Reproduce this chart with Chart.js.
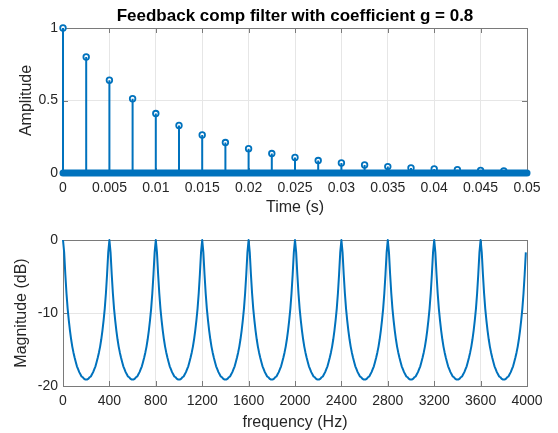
<!DOCTYPE html>
<html>
<head>
<meta charset="utf-8">
<script src="https://cdn.jsdelivr.net/npm/chart.js@4.4.1/dist/chart.umd.min.js"></script>
<style>
  html, body { margin: 0; padding: 0; background: #fff; }
  #wrap { position: relative; width: 558px; height: 433px; }
  #impulse { position: absolute; left: 0; top: 0; }
  #response { position: absolute; left: 0; top: 220px; }
</style>
</head>
<body>
<div id="wrap">
  <canvas id="impulse" width="558" height="220"></canvas>
  <canvas id="response" width="558" height="213"></canvas>
</div>
<script>
// impulse response: one non-zero sample every 0.0025 s, zeros in between
const stemTimes = [0, 0.0025, 0.005, 0.0075, 0.01, 0.0125, 0.015, 0.0175, 0.02, 0.0225,
  0.025, 0.0275, 0.03, 0.0325, 0.035, 0.0375, 0.04, 0.0425, 0.045, 0.0475];
const stemValues = [1, 0.8, 0.64, 0.512, 0.41, 0.328, 0.262, 0.21, 0.168, 0.134,
  0.107, 0.086, 0.069, 0.055, 0.044, 0.035, 0.028, 0.023, 0.018, 0.014];
const zeroSampleSpan = [0, 0.05];   // the zero-valued samples form a solid band
const timeTicks = [0, 0.005, 0.01, 0.015, 0.02, 0.025, 0.03, 0.035, 0.04, 0.045, 0.05];
const amplitudeTicks = [0, 0.5, 1];

// magnitude response, read every 10 Hz from 0 to 3990 Hz
const freqStepHz = 10;
const magnitudeDb = [
  0, -1.7, -4.7, -7.3, -9.4, -11.0, -12.4, -13.6, -14.6, -15.4, -16.1, -16.7, -17.3, -17.7, -18.1, -18.4, -18.7, -18.8, -19.0, -19.1,
  -19.1, -19.1, -19.0, -18.8, -18.7, -18.4, -18.1, -17.7, -17.3, -16.7, -16.1, -15.4, -14.6, -13.6, -12.4, -11.0, -9.4, -7.3, -4.7, -1.7,
  0, -1.7, -4.7, -7.3, -9.4, -11.0, -12.4, -13.6, -14.6, -15.4, -16.1, -16.7, -17.3, -17.7, -18.1, -18.4, -18.7, -18.8, -19.0, -19.1,
  -19.1, -19.1, -19.0, -18.8, -18.7, -18.4, -18.1, -17.7, -17.3, -16.7, -16.1, -15.4, -14.6, -13.6, -12.4, -11.0, -9.4, -7.3, -4.7, -1.7,
  0, -1.7, -4.7, -7.3, -9.4, -11.0, -12.4, -13.6, -14.6, -15.4, -16.1, -16.7, -17.3, -17.7, -18.1, -18.4, -18.7, -18.8, -19.0, -19.1,
  -19.1, -19.1, -19.0, -18.8, -18.7, -18.4, -18.1, -17.7, -17.3, -16.7, -16.1, -15.4, -14.6, -13.6, -12.4, -11.0, -9.4, -7.3, -4.7, -1.7,
  0, -1.7, -4.7, -7.3, -9.4, -11.0, -12.4, -13.6, -14.6, -15.4, -16.1, -16.7, -17.3, -17.7, -18.1, -18.4, -18.7, -18.8, -19.0, -19.1,
  -19.1, -19.1, -19.0, -18.8, -18.7, -18.4, -18.1, -17.7, -17.3, -16.7, -16.1, -15.4, -14.6, -13.6, -12.4, -11.0, -9.4, -7.3, -4.7, -1.7,
  0, -1.7, -4.7, -7.3, -9.4, -11.0, -12.4, -13.6, -14.6, -15.4, -16.1, -16.7, -17.3, -17.7, -18.1, -18.4, -18.7, -18.8, -19.0, -19.1,
  -19.1, -19.1, -19.0, -18.8, -18.7, -18.4, -18.1, -17.7, -17.3, -16.7, -16.1, -15.4, -14.6, -13.6, -12.4, -11.0, -9.4, -7.3, -4.7, -1.7,
  0, -1.7, -4.7, -7.3, -9.4, -11.0, -12.4, -13.6, -14.6, -15.4, -16.1, -16.7, -17.3, -17.7, -18.1, -18.4, -18.7, -18.8, -19.0, -19.1,
  -19.1, -19.1, -19.0, -18.8, -18.7, -18.4, -18.1, -17.7, -17.3, -16.7, -16.1, -15.4, -14.6, -13.6, -12.4, -11.0, -9.4, -7.3, -4.7, -1.7,
  0, -1.7, -4.7, -7.3, -9.4, -11.0, -12.4, -13.6, -14.6, -15.4, -16.1, -16.7, -17.3, -17.7, -18.1, -18.4, -18.7, -18.8, -19.0, -19.1,
  -19.1, -19.1, -19.0, -18.8, -18.7, -18.4, -18.1, -17.7, -17.3, -16.7, -16.1, -15.4, -14.6, -13.6, -12.4, -11.0, -9.4, -7.3, -4.7, -1.7,
  0, -1.7, -4.7, -7.3, -9.4, -11.0, -12.4, -13.6, -14.6, -15.4, -16.1, -16.7, -17.3, -17.7, -18.1, -18.4, -18.7, -18.8, -19.0, -19.1,
  -19.1, -19.1, -19.0, -18.8, -18.7, -18.4, -18.1, -17.7, -17.3, -16.7, -16.1, -15.4, -14.6, -13.6, -12.4, -11.0, -9.4, -7.3, -4.7, -1.7,
  0, -1.7, -4.7, -7.3, -9.4, -11.0, -12.4, -13.6, -14.6, -15.4, -16.1, -16.7, -17.3, -17.7, -18.1, -18.4, -18.7, -18.8, -19.0, -19.1,
  -19.1, -19.1, -19.0, -18.8, -18.7, -18.4, -18.1, -17.7, -17.3, -16.7, -16.1, -15.4, -14.6, -13.6, -12.4, -11.0, -9.4, -7.3, -4.7, -1.7,
  0, -1.7, -4.7, -7.3, -9.4, -11.0, -12.4, -13.6, -14.6, -15.4, -16.1, -16.7, -17.3, -17.7, -18.1, -18.4, -18.7, -18.8, -19.0, -19.1,
  -19.1, -19.1, -19.0, -18.8, -18.7, -18.4, -18.1, -17.7, -17.3, -16.7, -16.1, -15.4, -14.6, -13.6, -12.4, -11.0, -9.4, -7.3, -4.7, -1.7
];
const freqTicks = [0, 400, 800, 1200, 1600, 2000, 2400, 2800, 3200, 3600, 4000];
const magnitudeTicks = [-20, -10, 0];

const BLUE = '#0072BD';
const TEXT = '#262626';
const FONT = "'Liberation Sans', Arial, Helvetica, sans-serif";

Chart.defaults.font.family = FONT;
Chart.defaults.color = TEXT;

// MATLAB-like box with inward tick marks, drawn under the data
const boxPlugin = {
  id: 'matlabBox',
  beforeDatasetsDraw(chart) {
    const { ctx, chartArea: a, scales } = chart;
    ctx.save();
    ctx.strokeStyle = '#7a7a7a';
    ctx.lineWidth = 1;
    ctx.strokeRect(Math.round(a.left) + 0.5, Math.round(a.top) + 0.5,
      Math.round(a.right - a.left), Math.round(a.bottom - a.top));
    ctx.beginPath();
    scales.x.ticks.forEach(t => {
      const px = Math.round(scales.x.getPixelForValue(t.value)) + 0.5;
      ctx.moveTo(px, a.bottom); ctx.lineTo(px, a.bottom - 5);
      ctx.moveTo(px, a.top); ctx.lineTo(px, a.top + 5);
    });
    scales.y.ticks.forEach(t => {
      const py = Math.round(scales.y.getPixelForValue(t.value)) + 0.5;
      ctx.moveTo(a.left, py); ctx.lineTo(a.left + 5, py);
      ctx.moveTo(a.right, py); ctx.lineTo(a.right - 5, py);
    });
    ctx.stroke();
    ctx.restore();
  }
};

function axisOptions(ticks, min, max, title, opts) {
  return {
    type: 'linear',
    min: min,
    max: max,
    afterBuildTicks: scale => { scale.ticks = ticks.map(v => ({ value: v })); },
    grid: { color: '#e6e6e6', drawTicks: false },
    border: { display: false },
    ticks: { font: { size: 14 }, color: TEXT, padding: opts.tickPad, callback: v => String(v), maxRotation: 0, autoSkip: false },
    title: { display: true, text: title, font: { size: 16 }, color: TEXT, padding: opts.titlePad },
    afterFit: opts.afterFit
  };
}

// stems as separate vertical segments (null breaks the line)
const stemSegments = [];
stemTimes.forEach((t, i) => {
  stemSegments.push({ x: t, y: 0 }, { x: t, y: stemValues[i] }, { x: t, y: null });
});

new Chart(document.getElementById('impulse'), {
  type: 'scatter',
  data: {
    datasets: [
      {
        data: zeroSampleSpan.map(t => ({ x: t, y: 0 })),
        showLine: true, borderColor: BLUE, borderWidth: 7, borderCapStyle: 'round',
        pointRadius: 0, clip: false
      },
      {
        data: stemSegments,
        showLine: true, spanGaps: false, borderColor: BLUE, borderWidth: 2,
        pointRadius: 0, clip: false
      },
      {
        data: stemTimes.map((t, i) => ({ x: t, y: stemValues[i] })),
        pointStyle: 'circle', pointRadius: 2.8, pointBorderWidth: 1.8,
        borderColor: BLUE, backgroundColor: '#ffffff', clip: false
      }
    ]
  },
  options: {
    responsive: false,
    animation: false,
    devicePixelRatio: 1,
    layout: { padding: { left: 0, right: 31, top: 0, bottom: 0 } },
    plugins: {
      legend: { display: false },
      tooltip: { enabled: false },
      title: {
        display: true, fullSize: false,
        text: 'Feedback comp filter with coefficient g = 0.8',
        font: { size: 17, weight: 'bold' }, color: '#000',
        padding: { top: 5.8, bottom: 1.8 }
      }
    },
    scales: {
      x: axisOptions(timeTicks, 0, 0.05, 'Time (s)', {
        tickPad: 7, titlePad: { top: 0, bottom: 2.8 },
        afterFit: s => { s.height = 47; }
      }),
      y: axisOptions(amplitudeTicks, 0, 1, 'Amplitude', {
        tickPad: 5, titlePad: { top: 17.4, bottom: 0 },
        afterFit: s => { s.width = 63; }
      })
    }
  },
  plugins: [boxPlugin]
});

new Chart(document.getElementById('response'), {
  type: 'scatter',
  data: {
    datasets: [{
      data: magnitudeDb.map((v, i) => ({ x: i * freqStepHz, y: v })),
      showLine: true, borderColor: BLUE, borderWidth: 2, pointRadius: 0,
      borderJoinStyle: 'round', clip: false
    }]
  },
  options: {
    responsive: false,
    animation: false,
    devicePixelRatio: 1,
    layout: { padding: { left: 0, right: 31, top: 20, bottom: 0 } },
    plugins: { legend: { display: false }, tooltip: { enabled: false } },
    scales: {
      x: axisOptions(freqTicks, 0, 4000, 'frequency (Hz)', {
        tickPad: 7, titlePad: { top: 0, bottom: 0.8 },
        afterFit: s => { s.height = 47; }
      }),
      y: axisOptions(magnitudeTicks, -20, 0, 'Magnitude (dB)', {
        tickPad: 5, titlePad: { top: 12, bottom: 0 },
        afterFit: s => { s.width = 63; }
      })
    }
  },
  plugins: [boxPlugin]
});
</script>
</body>
</html>
